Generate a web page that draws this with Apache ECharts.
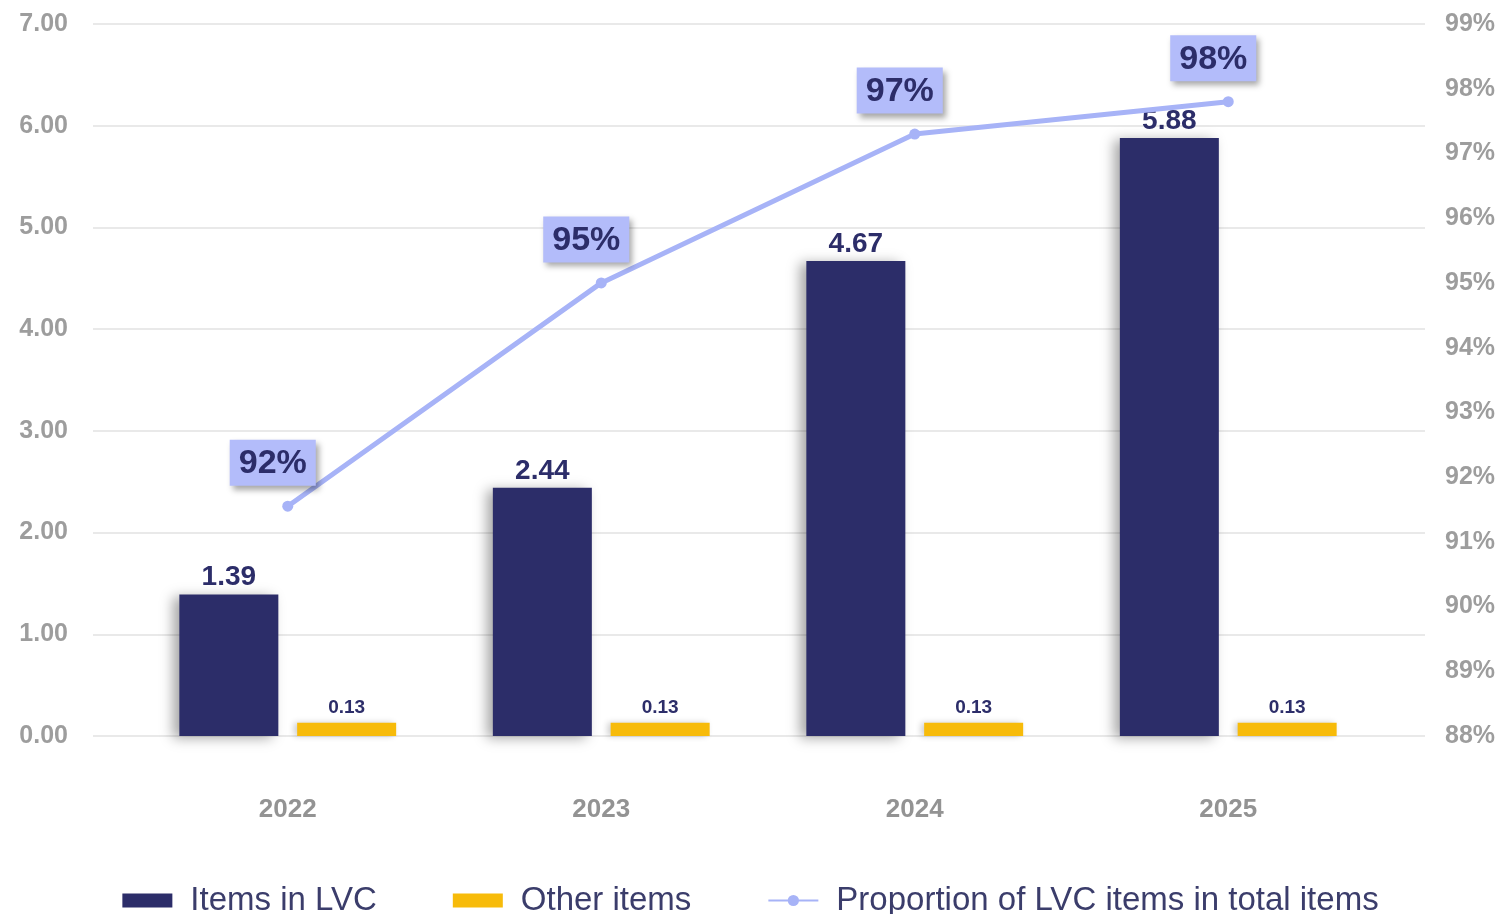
<!DOCTYPE html>
<html><head><meta charset="utf-8">
<script src="https://cdn.jsdelivr.net/npm/echarts@6/dist/echarts.min.js"></script>
<style>html,body{margin:0;padding:0;background:#fff}#c{width:1501px;height:914px}</style>
</head><body><div id="c"></div>
<script>
const years = ['2022', '2023', '2024', '2025'];
const itemsInLVC = [1.39, 2.44, 4.67, 5.88];
const otherItems = [0.13, 0.13, 0.13, 0.13];
const proportion = [91.55, 95.0, 97.3, 97.8];
const proportionLabels = ['92%', '95%', '97%', '98%'];

const chart = echarts.init(document.getElementById('c'));
const font = 'Liberation Sans, Arial, sans-serif';
const navy = '#2c2d69';
const yellow = '#f7bb0a';
const lilac = '#a7b3f7';

chart.setOption({
  backgroundColor: '#fff',
  textStyle: { fontFamily: font },
  legend: {
    bottom: -8, left: 'center', itemGap: 76, itemWidth: 50, itemHeight: 14,
    textStyle: { fontSize: 33, color: '#3b3d6b', fontFamily: font, padding: [0, 0, 0, 13] },
    data: [
      { name: 'Items in LVC', icon: 'rect' },
      { name: 'Other items', icon: 'rect' },
      { name: 'Proportion of LVC items in total items' }
    ]
  },
  grid: [
    { left: 93, right: 76, top: 24, bottom: 178 },
    { left: 131, right: 116, top: 24, bottom: 178 }
  ],
  xAxis: [
    { type: 'category', gridIndex: 0, data: years, show: false },
    { type: 'category', gridIndex: 1, data: years,
      axisLine: { show: false }, axisTick: { show: false },
      axisLabel: { margin: 61, fontSize: 26, fontWeight: 'bold', color: '#939393', fontFamily: font } }
  ],
  yAxis: [
    { type: 'value', gridIndex: 0, min: 0, max: 7, interval: 1,
      axisLine: { show: false }, axisTick: { show: false },
      axisLabel: { margin: 25, fontSize: 25, fontWeight: 'bold', color: '#9d9d9d', fontFamily: font,
        formatter: v => v.toFixed(2) },
      splitLine: { lineStyle: { color: '#e2e2e2', width: 1.5 } } },
    { type: 'value', gridIndex: 0, min: 88, max: 99, interval: 1, position: 'right',
      axisLine: { show: false }, axisTick: { show: false }, splitLine: { show: false },
      axisLabel: { margin: 20, fontSize: 25, fontWeight: 'bold', color: '#9d9d9d', fontFamily: font,
        formatter: v => v + '%' } },
    { type: 'value', gridIndex: 1, min: 0, max: 7, interval: 1, show: false, splitLine: { show: false } },
    { type: 'value', gridIndex: 1, min: 88, max: 99, interval: 1, show: false, splitLine: { show: false } }
  ],
  series: [
    { name: 'Items in LVC', type: 'bar', xAxisIndex: 1, yAxisIndex: 2, data: itemsInLVC,
      barWidth: 99, barGap: '19%',
      itemStyle: { color: navy, shadowColor: 'rgba(0,0,0,0.35)', shadowBlur: 12, shadowOffsetX: -6, shadowOffsetY: 2 },
      label: { show: true, position: 'top', distance: 3, fontSize: 28, fontWeight: 'bold', color: navy, fontFamily: font,
        formatter: p => p.value.toFixed(2) } },
    { name: 'Other items', type: 'bar', xAxisIndex: 1, yAxisIndex: 2, data: otherItems,
      barWidth: 99,
      itemStyle: { color: yellow, shadowColor: 'rgba(0,0,0,0.2)', shadowBlur: 6, shadowOffsetX: -3 },
      label: { show: true, position: 'top', distance: 6, fontSize: 19, fontWeight: 'bold', color: navy, fontFamily: font,
        formatter: p => p.value.toFixed(2) } },
    { name: 'Proportion of LVC items in total items', type: 'line', xAxisIndex: 1, yAxisIndex: 3, data: proportion,
      symbol: 'circle', symbolSize: 11, z: 5,
      lineStyle: { color: lilac, width: 5 },
      itemStyle: { color: lilac },
      label: { show: true, position: 'top', distance: 15, offset: [-15, 0],
        backgroundColor: '#b3bcfa', padding: [7, 9, 5, 9],
        fontSize: 34, fontWeight: 'bold', color: navy, fontFamily: font,
        shadowColor: 'rgba(0,0,0,0.35)', shadowBlur: 6, shadowOffsetX: 3, shadowOffsetY: 4,
        formatter: p => proportionLabels[p.dataIndex] } }
  ]
});
</script>
</body></html>
